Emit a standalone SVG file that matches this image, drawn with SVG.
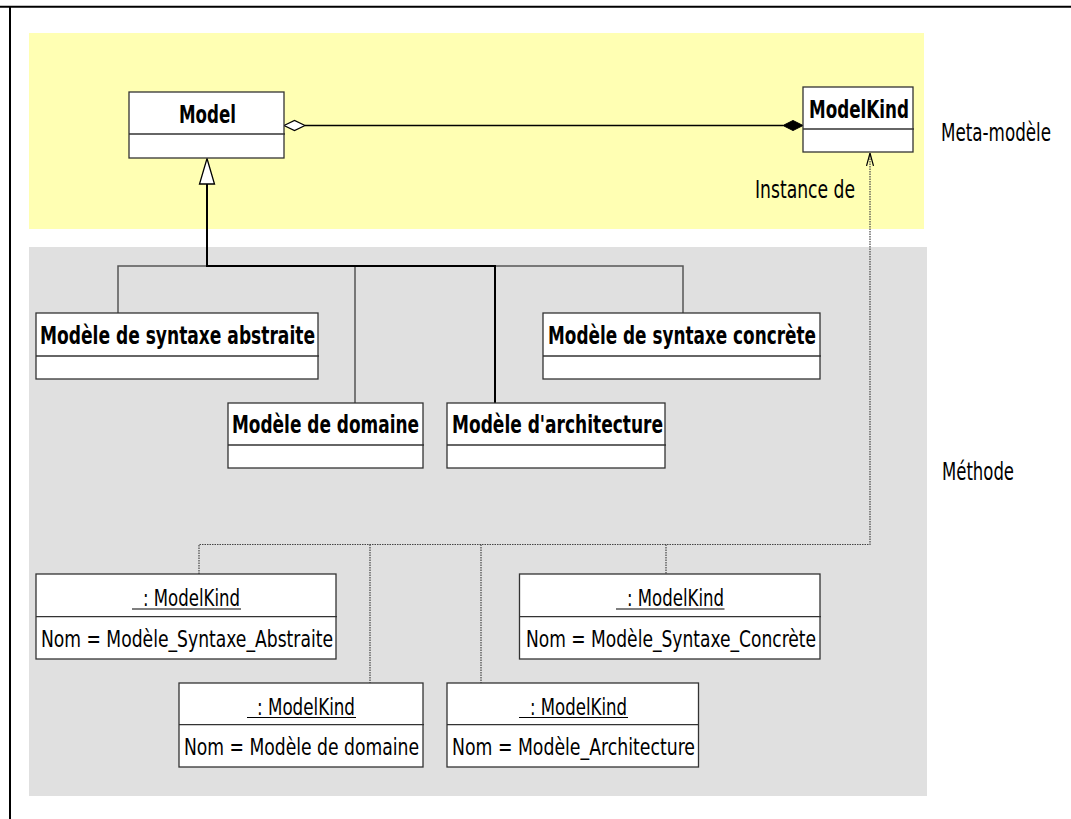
<svg xmlns="http://www.w3.org/2000/svg" width="1071" height="819" viewBox="0 0 1071 819">
  <style>
    .box { fill: #ffffff; stroke: #333333; stroke-width: 1.3; }
    .div { stroke: #333333; stroke-width: 1.3; }
    .title { font-family: "DejaVu Sans Condensed", "DejaVu Sans", sans-serif; font-weight: bold; font-size: 25px; fill: #000000; }
    .plain { font-family: "DejaVu Sans Condensed", "DejaVu Sans", sans-serif; font-size: 23px; fill: #000000; }
    .label { font-family: "DejaVu Sans Condensed", "DejaVu Sans", sans-serif; font-size: 24px; fill: #000000; }
    .gen { fill: none; stroke: #555555; stroke-width: 1.5; }
    .genMain { fill: none; stroke: #000000; stroke-width: 2; }
    .dep { fill: none; stroke: #444444; stroke-width: 1.2; stroke-dasharray: 1.5 1; }
  </style>
  <defs>
    <!-- open arrowhead, drawn along +x so it follows the path direction -->
    <marker id="openArrow" viewBox="0 0 13 8" refX="13" refY="4" markerWidth="13" markerHeight="8" markerUnits="userSpaceOnUse" orient="auto">
      <path d="M0,0.5 L13,4 L0,7.5" fill="none" stroke="#000000" stroke-width="1.2"/>
    </marker>
  </defs>

  <!-- page frame -->
  <line x1="0" y1="6.7" x2="1071" y2="6.7" stroke="#000000" stroke-width="2"/>
  <line x1="10" y1="6" x2="10" y2="819" stroke="#000000" stroke-width="2"/>

  <!-- layer backgrounds -->
  <rect id="layer-meta" x="29" y="33" width="895" height="196" fill="#ffffb3"/>
  <rect id="layer-methode" x="29" y="247" width="898" height="549" fill="#e0e0e0"/>
  <text class="label" x="941" y="141" textLength="110" lengthAdjust="spacingAndGlyphs">Meta-modèle</text>
  <text class="label" x="942" y="480" textLength="72" lengthAdjust="spacingAndGlyphs">Méthode</text>

  <!-- connectors -->
  <g id="connectors">
    <!-- aggregation Model <>—◆ ModelKind -->
    <line x1="305" y1="125.5" x2="783" y2="125.5" stroke="#000000" stroke-width="1.5"/>
    <path d="M284,125.5 L294.5,120.5 L305,125.5 L294.5,130.5 Z" fill="#ffffff" stroke="#000000" stroke-width="1.2"/>
    <path d="M783,125.5 L793,120.5 L803,125.5 L793,130.5 Z" fill="#000000" stroke="#000000" stroke-width="1"/>

    <!-- generalization tree -->
    <path class="gen" d="M118,313 V266 H207"/>
    <path class="gen" d="M355,403 V266"/>
    <path class="gen" d="M495,266 H683 V313"/>
    <path class="genMain" d="M207,184 V266 H495 V403"/>
    <path d="M207,158.5 L214.5,184 L199.5,184 Z" fill="#ffffff" stroke="#000000" stroke-width="1.3"/>

    <!-- instance-of dependency -->
    <path class="dep" d="M199,574 V544.5 H870 V153" marker-end="url(#openArrow)"/>
    <line class="dep" x1="370" y1="544.5" x2="370" y2="683"/>
    <line class="dep" x1="481" y1="544.5" x2="481" y2="683"/>
    <line class="dep" x1="666" y1="544.5" x2="666" y2="574"/>
    <text class="label" x="755" y="198" textLength="100" lengthAdjust="spacingAndGlyphs">Instance de</text>
  </g>

  <!-- classes -->
  <g id="model">
    <rect class="box" x="129" y="92" width="155" height="66"/>
    <line class="div" x1="129" y1="134" x2="285" y2="134"/>
    <text class="title" x="179" y="122.5" textLength="57" lengthAdjust="spacingAndGlyphs">Model</text>
  </g>
  <g id="modelkind">
    <rect class="box" x="803" y="87" width="110" height="65"/>
    <line class="div" x1="803" y1="129" x2="914" y2="129"/>
    <text class="title" x="809" y="117.5" textLength="100" lengthAdjust="spacingAndGlyphs">ModelKind</text>
  </g>
  <g id="syntaxe-abstraite">
    <rect class="box" x="36" y="313" width="282" height="66"/>
    <line class="div" x1="36" y1="356" x2="319" y2="356"/>
    <text class="title" x="40" y="344.3" textLength="275" lengthAdjust="spacingAndGlyphs">Modèle de syntaxe abstraite</text>
  </g>
  <g id="domaine">
    <rect class="box" x="228" y="403" width="195" height="65"/>
    <line class="div" x1="228" y1="445" x2="424" y2="445"/>
    <text class="title" x="232" y="433.3" textLength="187" lengthAdjust="spacingAndGlyphs">Modèle de domaine</text>
  </g>
  <g id="architecture">
    <rect class="box" x="447" y="403" width="218" height="65"/>
    <line class="div" x1="447" y1="445" x2="666" y2="445"/>
    <text class="title" x="452" y="433.3" textLength="211" lengthAdjust="spacingAndGlyphs">Modèle d'architecture</text>
  </g>
  <g id="syntaxe-concrete">
    <rect class="box" x="543" y="313" width="277" height="66"/>
    <line class="div" x1="543" y1="356" x2="821" y2="356"/>
    <text class="title" x="548" y="343.5" textLength="268" lengthAdjust="spacingAndGlyphs">Modèle de syntaxe concrète</text>
  </g>

  <!-- instances -->
  <g id="inst-abstraite">
    <rect class="box" x="36" y="574" width="300" height="85"/>
    <line class="div" x1="36" y1="616.7" x2="337" y2="616.7"/>
    <text class="plain" x="143" y="606" textLength="97" lengthAdjust="spacingAndGlyphs">: ModelKind</text>
    <line x1="132" y1="609" x2="241" y2="609" stroke="#000000" stroke-width="1.2"/>
    <text class="plain" x="41" y="647.3" textLength="292" lengthAdjust="spacingAndGlyphs">Nom = Modèle_Syntaxe_Abstraite</text>
  </g>
  <g id="inst-domaine">
    <rect class="box" x="179" y="683" width="244" height="84"/>
    <line class="div" x1="179" y1="724.7" x2="424" y2="724.7"/>
    <text class="plain" x="257" y="715" textLength="98" lengthAdjust="spacingAndGlyphs">: ModelKind</text>
    <line x1="247" y1="717.5" x2="356" y2="717.5" stroke="#000000" stroke-width="1.2"/>
    <text class="plain" x="184" y="755" textLength="235" lengthAdjust="spacingAndGlyphs">Nom = Modèle de domaine</text>
  </g>
  <g id="inst-architecture">
    <rect class="box" x="447" y="683" width="251.5" height="84"/>
    <line class="div" x1="447" y1="724.7" x2="699" y2="724.7"/>
    <text class="plain" x="530" y="715" textLength="97" lengthAdjust="spacingAndGlyphs">: ModelKind</text>
    <line x1="519" y1="717.5" x2="628" y2="717.5" stroke="#000000" stroke-width="1.2"/>
    <text class="plain" x="452" y="755" textLength="243" lengthAdjust="spacingAndGlyphs">Nom = Modèle_Architecture</text>
  </g>
  <g id="inst-concrete">
    <rect class="box" x="519.5" y="574" width="300.5" height="85"/>
    <line class="div" x1="519.5" y1="616.7" x2="821" y2="616.7"/>
    <text class="plain" x="627" y="606" textLength="97" lengthAdjust="spacingAndGlyphs">: ModelKind</text>
    <line x1="616" y1="609" x2="724.5" y2="609" stroke="#000000" stroke-width="1.2"/>
    <text class="plain" x="526" y="647.3" textLength="290" lengthAdjust="spacingAndGlyphs">Nom = Modèle_Syntaxe_Concrète</text>
  </g>
</svg>
